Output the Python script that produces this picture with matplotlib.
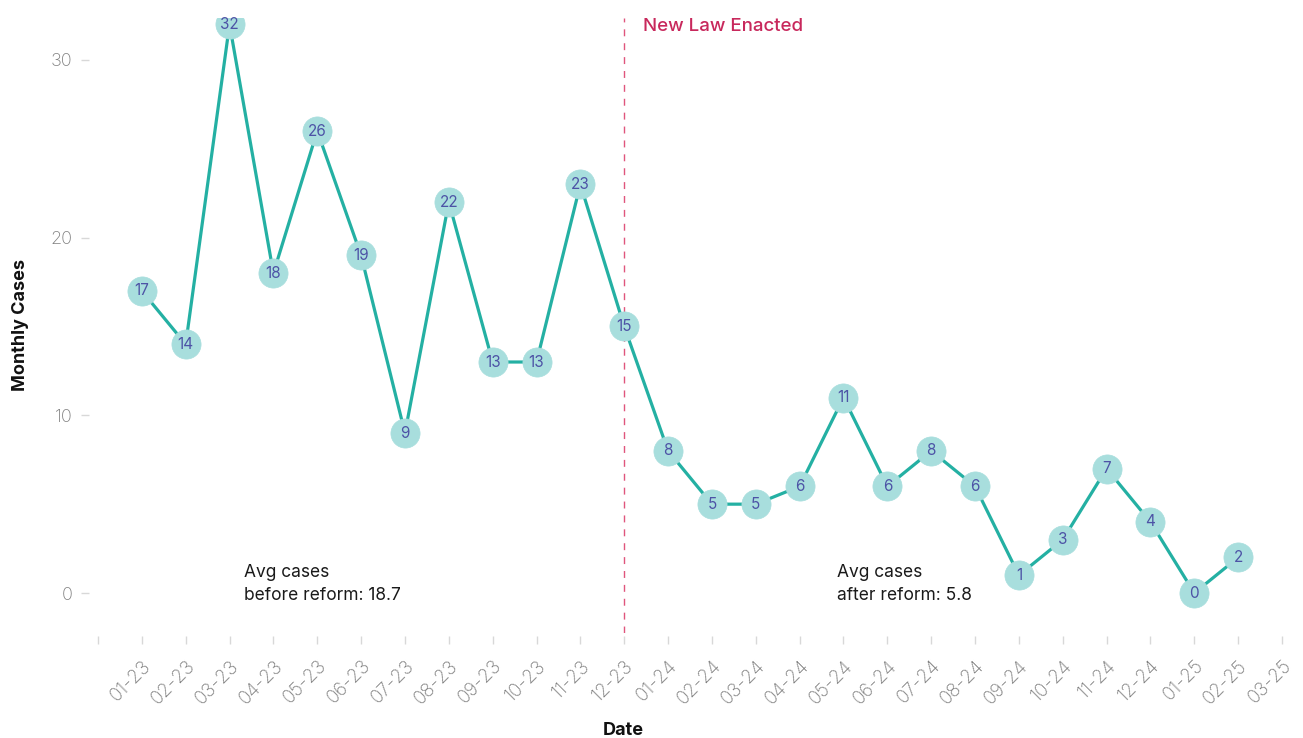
import matplotlib
matplotlib.use("Agg")
import matplotlib.pyplot as plt
from matplotlib import font_manager

# Monthly case counts, Jan 2023 - Feb 2025
months = ["01-23", "02-23", "03-23", "04-23", "05-23", "06-23", "07-23", "08-23",
          "09-23", "10-23", "11-23", "12-23", "01-24", "02-24", "03-24", "04-24",
          "05-24", "06-24", "07-24", "08-24", "09-24", "10-24", "11-24", "12-24",
          "01-25", "02-25"]
cases = [17, 14, 32, 18, 26, 19, 9, 22, 13, 13, 23, 15, 8, 5, 5, 6, 11, 6, 8, 6,
         1, 3, 7, 4, 0, 2]
tick_labels = [""] + months + ["03-25"]
law_month = "12-23"
avg_before = 18.7
avg_after = 5.8

names = {f.name for f in font_manager.fontManager.ttflist}
base_font = "Inter" if "Inter" in names else "Liberation Sans"
plt.rcParams["font.family"] = [base_font, "DejaVu Sans"]

fig = plt.figure(figsize=(13.03, 7.38), dpi=100)
ax = fig.add_axes([0.0752, 0.1423, 0.9087, 0.8333])

xs = list(range(len(cases)))
ax.plot(xs, cases, color="#24b0a3", lw=2.3, zorder=2)
ax.plot(xs, cases, "o", ms=21, mfc="#a8dedd", mec="#a8dedd", mew=0.5, zorder=3)
for x, v in zip(xs, cases):
    ax.text(x, v, str(v), ha="center", va="center", fontsize=11,
            color="#4d53a6", zorder=4)

law_x = months.index(law_month)
ax.axvline(law_x, color="#e0557c", lw=1, ls=(0, (5, 5)), zorder=1)
ax.text(law_x + 0.42, 31.9, "New Law Enacted", color="#c8285c", fontsize=13.5,
        fontweight="medium", va="center", ha="left")

ax.text(2.33, 0.5, f"Avg cases\nbefore reform: {avg_before}", fontsize=12.5,
        color="#1a1a1a", va="center", ha="left", linespacing=1.45)
ax.text(15.85, 0.5, f"Avg cases\nafter reform: {avg_after}", fontsize=12.5,
        color="#1a1a1a", va="center", ha="left", linespacing=1.45)

ax.set_xlim(-1, 26)
ax.set_ylim(-2.25, 32.36)
ax.set_xticks(range(-1, 27))
ax.set_xticklabels(tick_labels)
ax.set_yticks([0, 10, 20, 30])

for s in ax.spines.values():
    s.set_visible(False)
ax.spines["left"].set_position(("outward", 6.5))
ax.spines["bottom"].set_position(("outward", 2.2))
ax.tick_params(axis="both", length=6, width=1, color="#d8d8d8",
               labelcolor="#7f7f7f")
ax.tick_params(axis="y", pad=6, labelsize=13)
ax.tick_params(axis="x", pad=9, labelsize=13.5)
for lab in ax.get_xticklabels() + ax.get_yticklabels():
    lab.set_fontweight("light")
for lab in ax.get_xticklabels():
    lab.set_rotation(45)
    lab.set_ha("right")
    lab.set_rotation_mode("anchor")

ax.set_ylabel("Monthly Cases", fontsize=13, fontweight="bold", color="#111111")
ax.yaxis.set_label_coords(-0.058, 0.5)
ax.set_xlabel("Date", fontsize=13, fontweight="bold", color="#111111")
ax.xaxis.set_label_coords(0.444, -0.145)

fig.savefig("out.png", dpi=100)
